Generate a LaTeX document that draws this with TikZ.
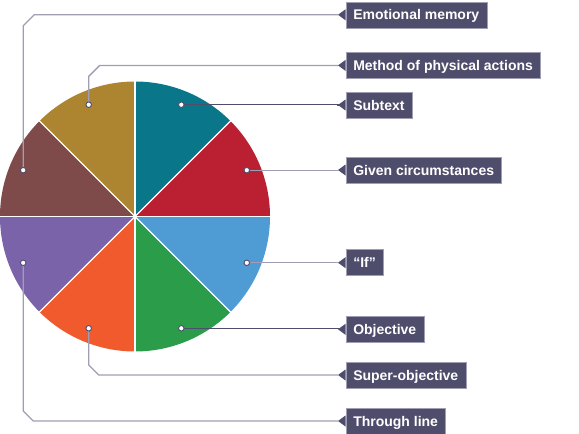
\documentclass[tikz,border=0pt]{standalone}
\usepackage{fontspec}
\setmainfont{Liberation Sans}
\usetikzlibrary{calc}
\definecolor{cTeal}{HTML}{0A7689}
\definecolor{cRed}{HTML}{BA2031}
\definecolor{cBlue}{HTML}{4F9BD4}
\definecolor{cGreen}{HTML}{2B9D4A}
\definecolor{cOrange}{HTML}{F05A2C}
\definecolor{cPurple}{HTML}{7B63A9}
\definecolor{cBrown}{HTML}{7E4A4A}
\definecolor{cGold}{HTML}{AD8430}
\definecolor{boxc}{HTML}{4F4D6C}
\definecolor{lineLight}{HTML}{A09EB2}
\definecolor{lineDark}{HTML}{4F4D6C}
\begin{document}
\begin{tikzpicture}[x=1pt,y=-1pt,
  lab/.style={fill=boxc, draw=lineLight, line width=0.5pt, text=white, anchor=west,
    font=\fontsize{14}{16}\selectfont\bfseries, inner xsep=7.5pt, inner ysep=0pt,
    minimum height=26pt, text height=12pt, text depth=2pt},
  conlight/.style={draw=lineLight, line width=1.3pt},
  condark/.style={draw=lineDark, line width=1.3pt},
  dot/.style={circle, fill=white, draw=lineDark, line width=0.9pt, inner sep=0pt, minimum size=5.5pt}]
\useasboundingbox (0,0) rectangle (579,434);
% pie
\begin{scope}[shift={(135,216.5)}, yscale=-1]
  \fill[cTeal]   (0,0) -- (45:135)   arc[start angle=45,   end angle=90,   radius=135] -- cycle;
  \fill[cRed]    (0,0) -- (0:135)    arc[start angle=0,    end angle=45,   radius=135] -- cycle;
  \fill[cBlue]   (0,0) -- (-45:135)  arc[start angle=-45,  end angle=0,    radius=135] -- cycle;
  \fill[cGreen]  (0,0) -- (-90:135)  arc[start angle=-90,  end angle=-45,  radius=135] -- cycle;
  \fill[cOrange] (0,0) -- (-135:135) arc[start angle=-135, end angle=-90,  radius=135] -- cycle;
  \fill[cPurple] (0,0) -- (180:135)  arc[start angle=180,  end angle=225,  radius=135] -- cycle;
  \fill[cBrown]  (0,0) -- (135:135)  arc[start angle=135,  end angle=180,  radius=135] -- cycle;
  \fill[cGold]   (0,0) -- (90:135)   arc[start angle=90,   end angle=135,  radius=135] -- cycle;
  \foreach \a in {0,45,...,315} \draw[white, line width=1.4pt] (0,0) -- (\a:136);
  \coordinate (pSub) at (67.5:121);
  \coordinate (pGiv) at (22.5:121);
  \coordinate (pIf)  at (-22.5:121);
  \coordinate (pObj) at (-67.5:121);
  \coordinate (pSup) at (-112.5:121);
  \coordinate (pThr) at (-157.5:121);
  \coordinate (pEmo) at (157.5:121);
  \coordinate (pMet) at (112.5:121);
\end{scope}
% label boxes
\node[lab] (bEmo) at (345.5,14.8)  {Emotional memory};
\node[lab] (bMet) at (345.5,65.4)  {Method of physical actions};
\node[lab] (bSub) at (345.5,105)   {Subtext};
\node[lab] (bGiv) at (345.5,170)   {Given circumstances};
\node[lab] (bIf)  at (345.5,262.7) {“If”};
\node[lab] (bObj) at (345.5,329.3) {Objective};
\node[lab] (bSup) at (345.5,375)   {Super-objective};
\node[lab] (bThr) at (345.5,421)   {Through line};
\foreach \b in {bEmo,bMet,bSub,bGiv,bIf,bObj,bSup,bThr}{
  \fill[boxc] ([yshift=-5.5pt]\b.west) -- ([xshift=-7.5pt]\b.west) -- ([yshift=5.5pt]\b.west) -- cycle;
  \coordinate (t\b) at ([xshift=-7.5pt]\b.west);
}
% connectors
\draw[condark]  (pSub) -- (pSub -| tbSub) -- (tbSub);
\draw[conlight] (pGiv) -- (pGiv -| tbGiv) -- (tbGiv);
\draw[conlight] (pIf)  -- (pIf -| tbIf) -- (tbIf);
\draw[condark]  (pObj) -- (pObj -| tbObj) -- (tbObj);
\draw[conlight] (pEmo) -- ($(pEmo |- tbEmo)+(0,11)$) -- ($(pEmo |- tbEmo)+(11,0)$) -- (tbEmo);
\draw[conlight] (pMet) -- ($(pMet |- tbMet)+(0,11)$) -- ($(pMet |- tbMet)+(11,0)$) -- (tbMet);
\draw[conlight] (pSup) -- ($(pSup |- tbSup)+(0,-10)$) -- ($(pSup |- tbSup)+(10,0)$) -- (tbSup);
\draw[conlight] (pThr) -- ($(pThr |- tbThr)+(0,-10)$) -- ($(pThr |- tbThr)+(10,0)$) -- (tbThr);
% dots
\foreach \p in {pSub,pGiv,pIf,pObj,pSup,pThr,pEmo,pMet}
  \node[dot] (d\p) at (\p) {};
\end{tikzpicture}
\end{document}
